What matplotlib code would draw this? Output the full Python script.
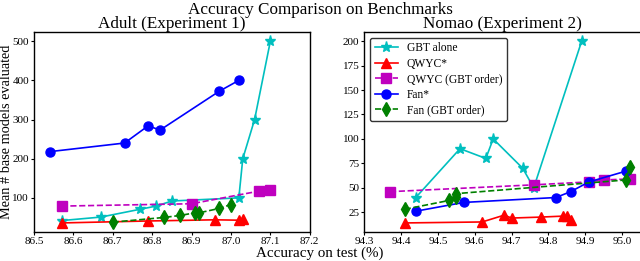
import numpy as np
import matplotlib
matplotlib.use("Agg")
import matplotlib.pyplot as plt

plt.rcParams['font.family'] = 'serif'
plt.rcParams['font.serif'] = ['Liberation Serif', 'DejaVu Serif']
plt.rcParams['mathtext.fontset'] = 'stix'

# Adult (Experiment 1)
adult_gbt_x = [86.57, 86.67, 86.77, 86.81, 86.85, 87.02, 87.03, 87.06, 87.10]
adult_gbt_y = [42, 51, 71, 79, 92, 100, 200, 300, 500]
adult_qwyc_x = [86.57, 86.79, 86.96, 87.02, 87.03]
adult_qwyc_y = [36, 41, 44, 43, 46]
adult_qwyc_gbt_x = [86.57, 86.90, 87.07, 87.10]
adult_qwyc_gbt_y = [79, 85, 117, 120]
adult_fan_x = [86.54, 86.73, 86.79, 86.82, 86.97, 87.02]
adult_fan_y = [218, 240, 284, 273, 372, 400]
adult_fan_gbt_x = [86.70, 86.83, 86.87, 86.91, 86.92, 86.97, 87.00]
adult_fan_gbt_y = [38, 50, 55, 62, 62, 73, 83]

# Nomao (Experiment 2)
nomao_gbt_x = [94.44, 94.56, 94.63, 94.65, 94.73, 94.76, 94.89]
nomao_gbt_y = [40, 90, 80, 100, 70, 50, 200]
nomao_qwyc_x = [94.41, 94.62, 94.68, 94.70, 94.78, 94.84, 94.85, 94.86]
nomao_qwyc_y = [14, 15, 22, 19, 20, 21, 21, 17]
nomao_qwyc_gbt_x = [94.37, 94.76, 94.91, 94.95, 95.02]
nomao_qwyc_gbt_y = [46, 53, 56, 58, 59]
nomao_fan_x = [94.44, 94.57, 94.82, 94.86, 94.91, 95.01]
nomao_fan_y = [26, 35, 40, 46, 56, 67]
nomao_fan_gbt_x = [94.41, 94.53, 94.55, 94.55, 95.01, 95.02]
nomao_fan_gbt_y = [28, 37, 41, 44, 58, 71]

labels = ['GBT alone', 'QWYC*', 'QWYC (GBT order)', 'Fan*', 'Fan (GBT order)']
styles = [dict(color='c', marker='*', ls='-', ms=8),
          dict(color='r', marker='^', ls='-', ms=7),
          dict(color='m', marker='s', ls='--', ms=6.5),
          dict(color='b', marker='o', ls='-', ms=6.5),
          dict(color='g', marker='d', ls='--', ms=7)]

fig = plt.figure(figsize=(6.4, 2.61), dpi=100)
ax1 = fig.add_axes([0.053, 0.111, 0.431, 0.766])
ax2 = fig.add_axes([0.569, 0.111, 0.432, 0.766])

adult = [(adult_gbt_x, adult_gbt_y), (adult_qwyc_x, adult_qwyc_y),
         (adult_qwyc_gbt_x, adult_qwyc_gbt_y), (adult_fan_x, adult_fan_y),
         (adult_fan_gbt_x, adult_fan_gbt_y)]
nomao = [(nomao_gbt_x, nomao_gbt_y), (nomao_qwyc_x, nomao_qwyc_y),
         (nomao_qwyc_gbt_x, nomao_qwyc_gbt_y), (nomao_fan_x, nomao_fan_y),
         (nomao_fan_gbt_x, nomao_fan_gbt_y)]

for ax, data in [(ax1, adult), (ax2, nomao)]:
    for (x, y), lab, st in zip(data, labels, styles):
        ax.plot(x, y, label=lab, lw=1.2, **st)
    ax.tick_params(labelsize=8, direction='out', length=2.5, pad=1,
                   top=False, right=False)
    for s in ax.spines.values():
        s.set_linewidth(1.0)

ax1.set_xlim(86.5, 87.2)
ax1.set_xticks(np.arange(86.5, 87.21, 0.1))
ax1.set_yticks([100, 200, 300, 400, 500])
ax2.set_xlim(94.3, 95.05)
ax2.set_xticks(np.arange(94.3, 95.01, 0.1))
ax2.set_yticks([25, 50, 75, 100, 125, 150, 175, 200])

ax1.set_title('Adult (Experiment 1)', fontsize=12.3, pad=1)
ax2.set_title('Nomao (Experiment 2)', fontsize=12.3, pad=1)
fig.text(0.0095, 0.111 + 0.766 / 2, 'Mean # base models evaluated', rotation=90,
         ha='center', va='center', fontsize=10.3)
fig.text(0.5, 0.03, 'Accuracy on test (%)', ha='center', va='center', fontsize=10.8)
fig.text(0.5, 0.962, 'Accuracy Comparison on Benchmarks', ha='center', va='center', fontsize=12.3)

leg = ax2.legend(loc='upper left', fontsize=8.3, labelspacing=0.3, framealpha=1,
                 edgecolor='#333333', handlelength=2.0)
leg.get_frame().set_linewidth(1.0)

fig.savefig('out.png', dpi=100)
